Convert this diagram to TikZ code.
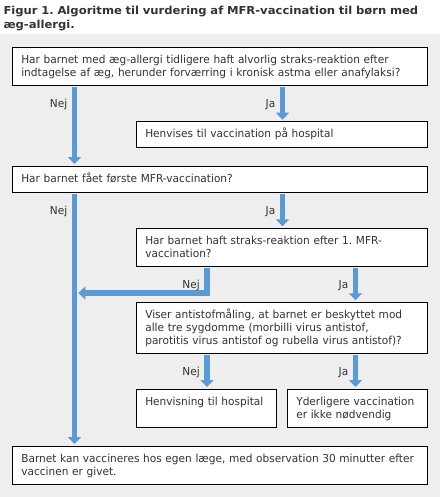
\documentclass[tikz,border=0pt]{standalone}
\usepackage{fontspec}
\setmainfont{DejaVu Sans}[FakeStretch=0.96]
\newfontfamily\titlefont{DejaVu Sans}[FakeStretch=1.055]
\usetikzlibrary{arrows.meta,calc}
\definecolor{ink}{HTML}{333333}
\definecolor{sky}{HTML}{5B9BD5}
\definecolor{panel}{HTML}{EEEEEE}
\frenchspacing
\tikzset{box/.style={draw=black,fill=white,line width=1pt,anchor=north west,outer sep=0pt,
 inner xsep=9pt,inner ysep=0pt,text height=16pt,align=left,text=ink,font=\fontsize{11}{13}\selectfont},
 fullw/.style={text width=397.4pt},halfw/.style={text width=273.4pt},cellw/.style={text width=122.4pt},
 onel/.style={text depth=10pt},twol/.style={text depth=22pt},threel/.style={text depth=35pt},
 arr/.style={-{Triangle[width=13pt,length=7pt]},line width=5.5pt,draw=sky,shorten <=2pt,shorten >=2pt},
 lbl/.style={anchor=base east,inner sep=0pt,text=ink,font=\fontsize{11}{13}\selectfont}}
\begin{document}
\begin{tikzpicture}[x=1pt,y=-1pt]
\useasboundingbox (0,0) rectangle (440,497);
\fill[panel] (0,34.3) rectangle (440,497);
\node[anchor=base west,inner sep=0pt,text width=436pt,align=left,text=ink,
 font=\titlefont\bfseries\fontsize{11}{13.3}\selectfont] (title) at (3.3,15)
 {Figur 1. Algoritme til vurdering af MFR-vaccination til børn med\\æg-allergi.};
\node[box,fullw,twol] (q1) at (12.3,47.3) {Har barnet med æg-allergi tidligere haft alvorlig straks-reaktion efter\\indtagelse af æg, herunder forværring i kronisk astma eller anafylaksi?};
\node[box,halfw,onel] (hosp1) at (136.3,121.7) {Henvises til vaccination på hospital};
\node[box,fullw,onel] (q2) at (12.3,166) {Har barnet fået første MFR-vaccination?};
\node[box,halfw,twol] (q3) at (136.3,228.3) {Har barnet haft straks-reaktion efter 1. MFR-\\vaccination?};
\node[box,halfw,threel] (q4) at (136.3,302.3) {Viser antistofmåling, at barnet er beskyttet mod\\alle tre sygdomme (morbilli virus antistof,\\parotitis virus antistof og rubella virus antistof)?};
\node[box,cellw,twol] (hosp2) at (136.3,389) {Henvisning til hospital};
\node[box,cellw,twol] (done) at (287.3,389) {Yderligere vaccination\\er ikke nødvendig};
\node[box,fullw,twol] (gp) at (12.3,446) {Barnet kan vaccineres hos egen læge, med observation 30 minutter efter\\vaccinen er givet.};
\coordinate (cnej) at (74.5,0);
\coordinate (cja) at (282.5,0);
\coordinate (cmid) at (207,0);
\coordinate (cja2) at (355.5,0);
\coordinate (nejjoin) at (78.3,293);
\draw[arr] (q1.south -| cnej) -- (q2.north -| cnej);
\draw[arr] (q1.south -| cja) -- (hosp1.north -| cja);
\draw[arr] (q2.south -| cnej) -- (gp.north -| cnej);
\draw[arr] (q2.south -| cja) -- (q3.north -| cja);
\draw[arr,shorten >=0pt] (q3.south -| cmid) |- (nejjoin);
\draw[arr] (q3.south -| cja2) -- (q4.north -| cja2);
\draw[arr] (q4.south -| cmid) -- (hosp2.north -| cmid);
\draw[arr] (q4.south -| cja2) -- (done.north -| cja2);
\node[lbl] (n1) at ($(q1.south -| cnej)+(-7,22)$) {Nej};
\node[lbl] (j1) at ($(q1.south -| cja)+(-7,22)$) {Ja};
\node[lbl] (n2) at ($(q2.south -| cnej)+(-7,22)$) {Nej};
\node[lbl] (j2) at ($(q2.south -| cja)+(-7,22)$) {Ja};
\node[lbl] (n3) at ($(q3.south -| cmid)+(-7,22)$) {Nej};
\node[lbl] (j3) at ($(q3.south -| cja2)+(-7,22)$) {Ja};
\node[lbl] (n4) at ($(q4.south -| cmid)+(-7,22)$) {Nej};
\node[lbl] (j4) at ($(q4.south -| cja2)+(-7,22)$) {Ja};
\end{tikzpicture}
\end{document}
